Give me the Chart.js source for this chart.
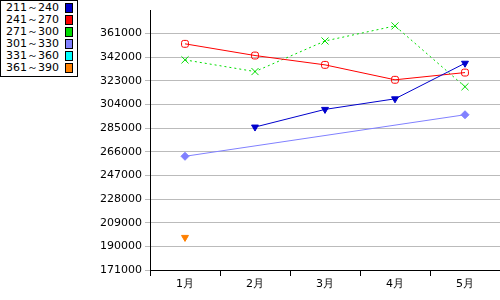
<!DOCTYPE html>
<html>
<head>
<meta charset="utf-8">
<script src="https://cdn.jsdelivr.net/npm/chart.js@4/dist/chart.umd.min.js"></script>
<style>
	body { margin: 0; background: #fff; }
	#wrap { position: relative; width: 500px; height: 300px; overflow: hidden; }
	#legend {
		position: absolute; left: 0; top: 0; width: 76px;
		border: 1px solid #000; background: #fff;
		font: 11px "DejaVu Sans", sans-serif; padding: 1px 0 2px 0;
	}
	#legend div { height: 12px; line-height: 12px; position: relative; padding-left: 5px; }
	#legend span { position: absolute; left: 64px; top: 1px; width: 8px; height: 10px; border: 1px solid #000; box-sizing: border-box; }
</style>
</head>
<body>
<div id="wrap">
	<canvas id="chart" width="506" height="300"></canvas>
	<div id="legend"></div>
</div>
<script>
const months = ["1月", "2月", "3月", "4月", "5月"];
const seriesNames = ["211～240", "241～270", "271～300", "301～330", "331～360", "361～390"];
const seriesColors = ["#0000cc", "#ff0000", "#00dd00", "#8080ff", "#00ffff", "#ff8000"];
const s211 = [null, 285900, 300100, 308600, 337200];
const s241 = [352800, 343400, 335900, 323900, 329700];
const s271 = [339900, 330500, 355100, 367200, 318300];
const s301 = [262400, null, null, null, 295800];
const s331 = [null, null, null, null, null];
const s361 = [197200, null, null, null, null];
const yMin = 171000, yMax = 380000, yStep = 19000;

const legend = document.getElementById("legend");
seriesNames.forEach((n, i) => {
	const d = document.createElement("div");
	d.innerHTML = n + '<span style="background:' + seriesColors[i] + '"></span>';
	legend.appendChild(d);
});

const downTri = { pointStyle: "triangle", rotation: 180 };

new Chart(document.getElementById("chart"), {
	type: "line",
	data: {
		labels: months,
		datasets: [
			{ label: seriesNames[0], data: s211, borderColor: seriesColors[0], backgroundColor: seriesColors[0], ...downTri, pointRadius: 4 },
			{ label: seriesNames[1], data: s241, borderColor: seriesColors[1], backgroundColor: "rgba(0,0,0,0)", pointStyle: "rectRounded", pointRadius: 4 },
			{ label: seriesNames[2], data: s271, borderColor: seriesColors[2], backgroundColor: seriesColors[2], borderDash: [2, 3], pointStyle: "crossRot", pointRadius: 5 },
			{ label: seriesNames[3], data: s301, borderColor: seriesColors[3], backgroundColor: seriesColors[3], pointStyle: "rectRot", pointRadius: 4, spanGaps: true },
			{ label: seriesNames[4], data: s331, borderColor: seriesColors[4], backgroundColor: seriesColors[4] },
			{ label: seriesNames[5], data: s361, borderColor: seriesColors[5], backgroundColor: seriesColors[5], ...downTri, pointRadius: 4 },
		],
	},
	options: {
		responsive: false,
		animation: false,
		layout: { padding: { top: 10, right: 0, left: 0, bottom: 0 } },
		elements: { line: { borderWidth: 1, tension: 0 }, point: { borderWidth: 1 } },
		plugins: { legend: { display: false }, tooltip: { enabled: false } },
		scales: {
			x: {
				offset: true,
				border: { color: "#000", width: 1 },
				grid: { offset: true, drawOnChartArea: false, color: "#000", tickLength: 6 },
				ticks: { color: "#000", font: { family: "DejaVu Sans", size: 11 }, padding: 2 },
				afterFit: (a) => { a.height = 30; a.paddingLeft = 0; a.paddingRight = 0; },
			},
			y: {
				min: yMin,
				max: yMax,
				border: { color: "#000", width: 1 },
				grid: { color: "#bbbbbb", tickLength: 5 },
				ticks: { stepSize: yStep, color: "#000", font: { family: "DejaVu Sans", size: 11 }, padding: 3, callback: (v) => String(v) },
				afterBuildTicks: (a) => { a.ticks = a.ticks.filter((t) => t.value <= 361000); },
				afterFit: (a) => { a.width = 150; a.paddingTop = 0; a.paddingBottom = 0; },
			},
		},
	},
});
</script>
</body>
</html>
